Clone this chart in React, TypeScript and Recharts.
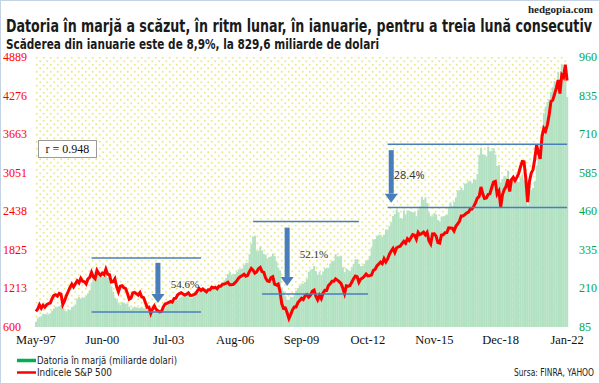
import React from 'react'
import {
  ComposedChart,
  Bar,
  Line,
  XAxis,
  YAxis,
  CartesianGrid,
  ReferenceLine,
  ReferenceDot,
  Legend,
} from 'recharts'

const monthNames = ['Jan', 'Feb', 'Mar', 'Apr', 'May', 'Jun', 'Jul', 'Aug', 'Sep', 'Oct', 'Nov', 'Dec']

// monthly categories, May-97 .. Jan-22
const months: string[] = []
for (let i = 0; i < 297; i++) {
  const m = (4 + i) % 12
  const y = 1997 + Math.floor((4 + i) / 12)
  months.push(`${monthNames[m]}-${String(y).slice(2)}`)
}

// S&P 500, month-end close
const sp500 = [
  848, 885, 954, 899, 947, 915, 955, 970, // 1997 (May-Dec)
  980, 1049, 1102, 1112, 1091, 1134, 1121, 957, 1017, 1099, 1164, 1229, // 1998
  1280, 1238, 1286, 1335, 1302, 1373, 1329, 1320, 1283, 1363, 1389, 1469, // 1999
  1394, 1366, 1499, 1452, 1421, 1455, 1431, 1518, 1437, 1429, 1315, 1320, // 2000
  1366, 1240, 1160, 1249, 1256, 1224, 1211, 1134, 1041, 1060, 1139, 1148, // 2001
  1130, 1107, 1147, 1077, 1067, 990, 912, 916, 815, 886, 936, 880, // 2002
  856, 841, 848, 917, 964, 975, 990, 1008, 996, 1051, 1058, 1112, // 2003
  1131, 1145, 1126, 1107, 1121, 1141, 1102, 1104, 1115, 1130, 1174, 1212, // 2004
  1181, 1204, 1181, 1157, 1192, 1191, 1234, 1220, 1229, 1207, 1249, 1248, // 2005
  1280, 1281, 1295, 1311, 1270, 1270, 1277, 1304, 1336, 1378, 1401, 1418, // 2006
  1438, 1407, 1421, 1482, 1531, 1503, 1455, 1474, 1527, 1549, 1481, 1468, // 2007
  1379, 1331, 1323, 1386, 1400, 1280, 1267, 1283, 1166, 969, 896, 903, // 2008
  826, 735, 798, 873, 919, 919, 987, 1021, 1057, 1036, 1096, 1115, // 2009
  1074, 1104, 1169, 1187, 1089, 1031, 1102, 1049, 1141, 1183, 1181, 1258, // 2010
  1286, 1327, 1326, 1364, 1345, 1321, 1292, 1219, 1131, 1253, 1247, 1258, // 2011
  1312, 1366, 1408, 1398, 1310, 1362, 1379, 1407, 1441, 1412, 1416, 1426, // 2012
  1498, 1515, 1569, 1598, 1631, 1606, 1686, 1633, 1682, 1757, 1806, 1848, // 2013
  1783, 1859, 1872, 1884, 1924, 1960, 1931, 2003, 1972, 2018, 2068, 2059, // 2014
  1995, 2105, 2068, 2086, 2107, 2063, 2104, 1972, 1920, 2079, 2080, 2044, // 2015
  1940, 1932, 2060, 2065, 2097, 2099, 2174, 2171, 2168, 2126, 2199, 2239, // 2016
  2279, 2364, 2363, 2384, 2412, 2423, 2470, 2472, 2519, 2575, 2648, 2674, // 2017
  2824, 2714, 2641, 2648, 2705, 2718, 2816, 2902, 2914, 2712, 2760, 2507, // 2018
  2704, 2784, 2834, 2946, 2752, 2942, 2980, 2926, 2977, 3038, 3141, 3231, // 2019
  3226, 2954, 2585, 2912, 3044, 3100, 3271, 3500, 3363, 3270, 3622, 3756, // 2020
  3714, 3811, 3973, 4181, 4204, 4298, 4395, 4523, 4308, 4605, 4567, 4766, // 2021
  4516, // 2022 (Jan)
]

// margin debt, billions of dollars
const marginDebt = [
  102, 113, 118, 120, 128, 127, 126, 126, // 1997 (May-Dec)
  130, 138, 145, 151, 150, 153, 156, 146, 137, 136, 143, 140, // 1998
  150, 152, 158, 177, 182, 177, 181, 180, 186, 194, 204, 229, // 1999
  244, 265, 279, 252, 247, 248, 246, 251, 245, 233, 217, 199, // 2000
  180, 173, 164, 157, 165, 164, 161, 160, 151, 142, 148, 151, // 2001
  149, 147, 147, 150, 145, 147, 141, 138, 135, 135, 137, 135, // 2002
  136, 135, 138, 142, 146, 152, 159, 161, 164, 168, 171, 173, // 2003
  179, 183, 187, 186, 188, 186, 180, 178, 184, 192, 199, 204, // 2004
  199, 203, 202, 201, 199, 201, 211, 210, 212, 214, 214, 222, // 2005
  230, 236, 244, 257, 263, 254, 256, 257, 264, 272, 273, 275, // 2006
  286, 293, 293, 321, 354, 378, 381, 331, 332, 345, 333, 322, // 2007
  319, 307, 312, 313, 323, 315, 298, 278, 269, 213, 201, 185, // 2008
  173, 173, 183, 182, 188, 203, 211, 218, 226, 226, 231, 240, // 2009
  264, 270, 273, 283, 266, 254, 263, 254, 265, 275, 277, 277, // 2010
  291, 298, 300, 321, 314, 314, 316, 279, 263, 275, 270, 266, // 2011
  277, 290, 304, 305, 290, 282, 283, 290, 299, 303, 316, 343, // 2012
  367, 370, 380, 384, 384, 377, 384, 401, 401, 413, 424, 445, // 2013
  451, 466, 457, 438, 436, 463, 450, 463, 462, 459, 457, 457, // 2014
  444, 465, 476, 507, 497, 505, 487, 455, 444, 444, 454, 450, // 2015
  432, 427, 443, 444, 446, 449, 473, 489, 477, 490, 504, 528, // 2016
  528, 536, 528, 549, 551, 557, 559, 551, 565, 562, 581, 643, // 2017
  666, 645, 643, 638, 669, 654, 656, 665, 644, 607, 610, 554, // 2018
  565, 575, 569, 592, 549, 562, 569, 553, 557, 555, 569, 579, // 2019
  561, 545, 479, 525, 530, 536, 558, 607, 637, 648, 722, 778, // 2020
  799, 814, 823, 847, 862, 882, 844, 912, 888, 936, 919, 911, // 2021
  830, // 2022 (Jan)
]

const leftTicks = [600, 1213, 1825, 2438, 3051, 3663, 4276, 4889]
const rightTicks = [85, 210, 335, 460, 585, 710, 835, 960]

// horizontal level lines, margin-debt axis
const levelLines = [
  { from: 'Dec-99', to: 'Jan-05', value: 309 },
  { from: 'Dec-99', to: 'Jan-05', value: 134 },
  { from: 'Jun-07', to: 'May-12', value: 427 },
  { from: 'Nov-07', to: 'Oct-12', value: 192 },
  { from: 'Sep-13', to: 'Jan-22', value: 677 },
  { from: 'Sep-13', to: 'Jan-22', value: 472 },
]

// drop arrows and their labels
const drops = [
  { month: 'Jan-03', top: 293, bottom: 163, label: '54.6%', labelMonth: 'Apr-04', labelValue: 225, serif: true },
  { month: 'Jan-09', top: 407, bottom: 218, label: '52.1%', labelMonth: 'Apr-10', labelValue: 322, serif: true },
  { month: 'Nov-13', top: 658, bottom: 488, label: '28.4%', labelMonth: 'Sep-14', labelValue: 576, serif: false },
]

const data = months.map((month, i) => ({ month, sp: sp500[i], margin: marginDebt[i] }))

const serif = "'Liberation Serif', 'Times New Roman', serif"
const narrow = "'Liberation Sans Narrow', 'DejaVu Sans Condensed', Roboto, sans-serif"
const blue = '#4a7ebb'

const LeftTick = ({ y, payload }: any) => (
  <text x={3} y={y} dy={4} fill="#ff0000" fontSize={12} fontFamily={serif}>
    {payload.value}
  </text>
)

const RightTick = ({ y, payload }: any) => (
  <text x={579} y={y} dy={4} fill="#00a650" fontSize={12} fontFamily={serif}>
    {payload.value}
  </text>
)

const DropArrow = ({ x1, y1, y2 }: any) => {
  const head = 9
  return (
    <g>
      <rect x={x1 - 2.5} y={y1} width={5} height={y2 - y1 - head} fill={blue} />
      <polygon points={`${x1 - 6.5},${y2 - head} ${x1 + 6.5},${y2 - head} ${x1},${y2}`} fill={blue} />
    </g>
  )
}

const legendSwatch: Record<string, { color: string; h: number }> = {
  margin: { color: '#00b050', h: 3.5 },
  sp: { color: '#ff0000', h: 2.5 },
}
const legendWidths: Record<string, number> = { margin: 140, sp: 75 }

const LegendContent = ({ payload }: any) => (
  <svg width={600} height={30} style={{ display: 'block', overflow: 'visible' }}>
    {(payload || []).map((item: any, i: number) => {
      const sw = legendSwatch[item.dataKey]
      return (
        <g key={item.dataKey}>
          <rect x={17} y={7.5 + i * 12 - sw.h / 2 + 1} width={19} height={sw.h} fill={sw.color} />
          <text
            x={37}
            y={12 + i * 12}
            fontSize={11}
            fontFamily={narrow}
            fill="#222"
            textLength={legendWidths[item.dataKey]}
            lengthAdjust="spacingAndGlyphs"
          >
            {item.value}
          </text>
        </g>
      )
    })}
    <text x={594} y={24} textAnchor="end" fontSize={11} fontFamily={narrow} fill="#222" textLength={80} lengthAdjust="spacingAndGlyphs">
      Sursa: FINRA, YAHOO
    </text>
  </svg>
)

export default function App() {
  return (
    <div style={{ position: 'absolute', left: 0, top: 0, width: 600, height: 384, background: '#fff' }}>
      <svg width={600} height={56} style={{ position: 'absolute', left: 0, top: 0 }}>
        <text x={593} y={13} textAnchor="end" fontSize={11} fontWeight={700} fontFamily={serif} fill="#222">
          hedgopia.com
        </text>
        <text x={6} y={32} fontSize={18.5} fontWeight={700} fontFamily={narrow} fill="#1a1a1a" textLength={586} lengthAdjust="spacingAndGlyphs">
          Datoria în marjă a scăzut, în ritm lunar, în ianuarie, pentru a treia lună consecutiv
        </text>
        <text x={6} y={48.5} fontSize={14} fontWeight={700} fontFamily={narrow} fill="#1a1a1a" textLength={373} lengthAdjust="spacingAndGlyphs">
          Scăderea din ianuarie este de 8,9%, la 829,6 miliarde de dolari
        </text>
      </svg>
      <ComposedChart
        width={600}
        height={384}
        data={data}
        margin={{ top: 57, right: 0, bottom: 34, left: 0 }}
        barCategoryGap={0}
      >
        <defs>
          <pattern id="dots" width={7} height={7} patternUnits="userSpaceOnUse">
            <circle cx={1.75} cy={1.75} r={1} fill="#e8e884" />
            <circle cx={5.25} cy={5.25} r={1} fill="#e8e884" />
          </pattern>
        </defs>
        <CartesianGrid horizontal={false} vertical={false} fill="url(#dots)" />
        <XAxis
          dataKey="month"
          interval={36}
          tickLine={false}
          axisLine={false}
          height={23}
          tick={{ fontSize: 12.5, fill: '#111', fontFamily: serif }}
        />
        <YAxis
          yAxisId="left"
          domain={[600, 4889]}
          ticks={leftTicks}
          width={35}
          axisLine={false}
          tickLine={false}
          tick={<LeftTick />}
        />
        <YAxis
          yAxisId="right"
          orientation="right"
          domain={[85, 960]}
          ticks={rightTicks}
          width={32}
          axisLine={false}
          tickLine={false}
          tick={<RightTick />}
        />
        <Bar
          yAxisId="right"
          dataKey="margin"
          name="Datoria în marjă (miliarde dolari)"
          fill="#b3e2c3"
          isAnimationActive={false}
        />
        <Line
          yAxisId="left"
          dataKey="sp"
          name="Indicele S&P 500"
          type="linear"
          stroke="#ff0000"
          strokeWidth={3}
          dot={false}
          isAnimationActive={false}
        />
        {levelLines.map((l, i) => (
          <ReferenceLine
            key={'lv' + i}
            yAxisId="right"
            segment={[
              { x: l.from, y: l.value },
              { x: l.to, y: l.value },
            ]}
            stroke={blue}
            strokeWidth={1.5}
          />
        ))}
        {drops.map((d) => (
          <ReferenceLine
            key={'ar' + d.month}
            yAxisId="right"
            segment={[
              { x: d.month, y: d.top },
              { x: d.month, y: d.bottom },
            ]}
            shape={(p: any) => <DropArrow {...p} />}
          />
        ))}
        {drops.map((d) => (
          <ReferenceDot
            key={'lb' + d.month}
            yAxisId="right"
            x={d.labelMonth}
            y={d.labelValue}
            r={0}
            shape={(p: any) => (
              <text
                x={p.cx}
                y={p.cy}
                dy={4}
                textAnchor="middle"
                fontSize={11}
                fontFamily={d.serif ? serif : "'Open Sans', sans-serif"}
                fill="#333"
              >
                {d.label}
              </text>
            )}
          />
        ))}
        <Legend
          verticalAlign="middle"
          align="center"
          layout="horizontal"
          wrapperStyle={{ left: 0, top: 352, width: 600, height: 30 }}
          content={<LegendContent />}
        />
      </ComposedChart>
      <div
        style={{
          position: 'absolute',
          left: 38,
          top: 140,
          width: 59,
          height: 18,
          boxSizing: 'border-box',
          border: '1px solid #9a9a9a',
          background: '#fff',
          fontFamily: serif,
          fontSize: 12,
          lineHeight: '16px',
          textAlign: 'center',
          color: '#111',
        }}
      >
        r = 0.948
      </div>
      <div
        style={{
          position: 'absolute',
          inset: 0,
          border: '1px solid #c4d3e3',
          pointerEvents: 'none',
        }}
      />
    </div>
  )
}
